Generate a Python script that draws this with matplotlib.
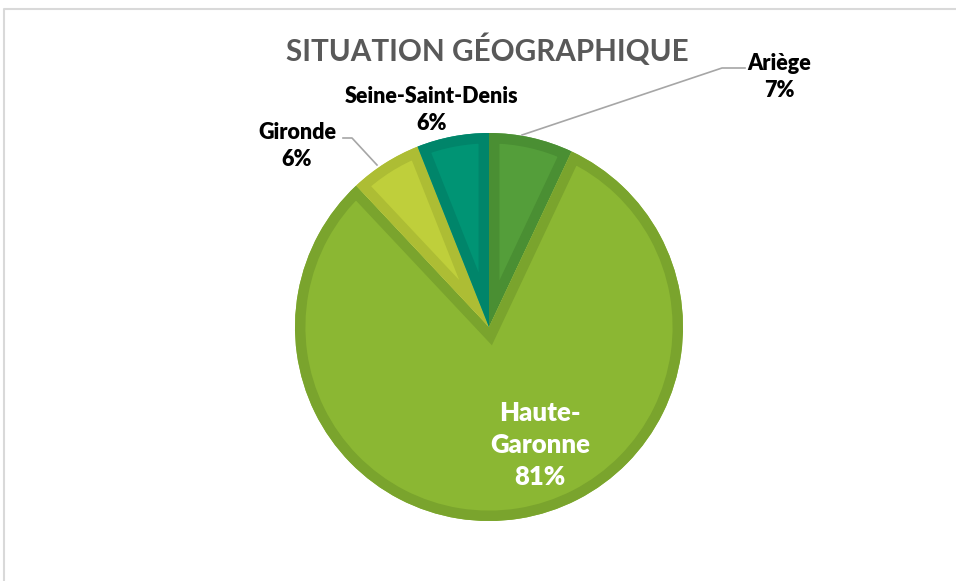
import matplotlib
matplotlib.use("Agg")
import matplotlib.pyplot as plt
from matplotlib.patches import Wedge
import numpy as np

categories = ["Ariège", "Haute-Garonne", "Gironde", "Seine-Saint-Denis"]
values = [7, 81, 6, 6]
fills = ["#549e3a", "#8bb733", "#bfcf3b", "#009474"]
edges = ["#4a8f33", "#7aa42d", "#adbd34", "#00856a"]
title = "SITUATION GÉOGRAPHIQUE"

W, H = 956, 581
fig = plt.figure(figsize=(W/100, H/100), dpi=100)
ax = fig.add_axes([0, 0, 1, 1])
ax.set_xlim(0, W)
ax.set_ylim(H, 0)
ax.set_aspect("equal")
ax.axis("off")

# chart frame (partially visible)
ax.plot([4.5, 4.5, W + 5], [H + 5, 8.5, 8.5], color="#d9d9d9", lw=1.5, solid_capstyle="butt")

cx, cy, r = 489, 327, 194
total = sum(values)
start = 90.0
font = "Lato"
for v, fc, ec in zip(values, fills, edges):
    ang = v / total * 360
    t1 = -start
    t2 = -(start - ang)
    w = Wedge((cx, cy), r, t1, t2, facecolor=fc, edgecolor="none")
    ax.add_patch(w)
    w2 = Wedge((cx, cy), r, t1, t2, facecolor="none", edgecolor=ec, lw=15, joinstyle="miter")
    ax.add_patch(w2)
    w2.set_clip_path(w)
    start -= ang

ax.text(487, 50, title, ha="center", va="center", fontsize=21.3, fontweight="bold",
        color="#595959", family=font)

lc = "#a6a6a6"
ax.plot([522, 722, 745], [135, 68, 68], color=lc, lw=1.2)
ax.plot([377, 352, 343], [165, 138, 138], color=lc, lw=1.2)

lab = dict(ha="center", va="center", fontsize=15.5, fontweight="heavy", color="black",
           family=font, linespacing=1.4)
ax.text(779, 77, f"{categories[0]}\n{values[0]}%", **lab)
ax.text(432, 110, f"{categories[3]}\n{values[3]}%", **lab)
ax.text(297, 146, f"{categories[2]}\n{values[2]}%", **lab)
ax.text(540, 445, "Haute-\nGaronne\n81%", ha="center", va="center", fontsize=18.5,
        fontweight="heavy", color="white", family=font, linespacing=1.42)

fig.savefig("out.png", dpi=100)
